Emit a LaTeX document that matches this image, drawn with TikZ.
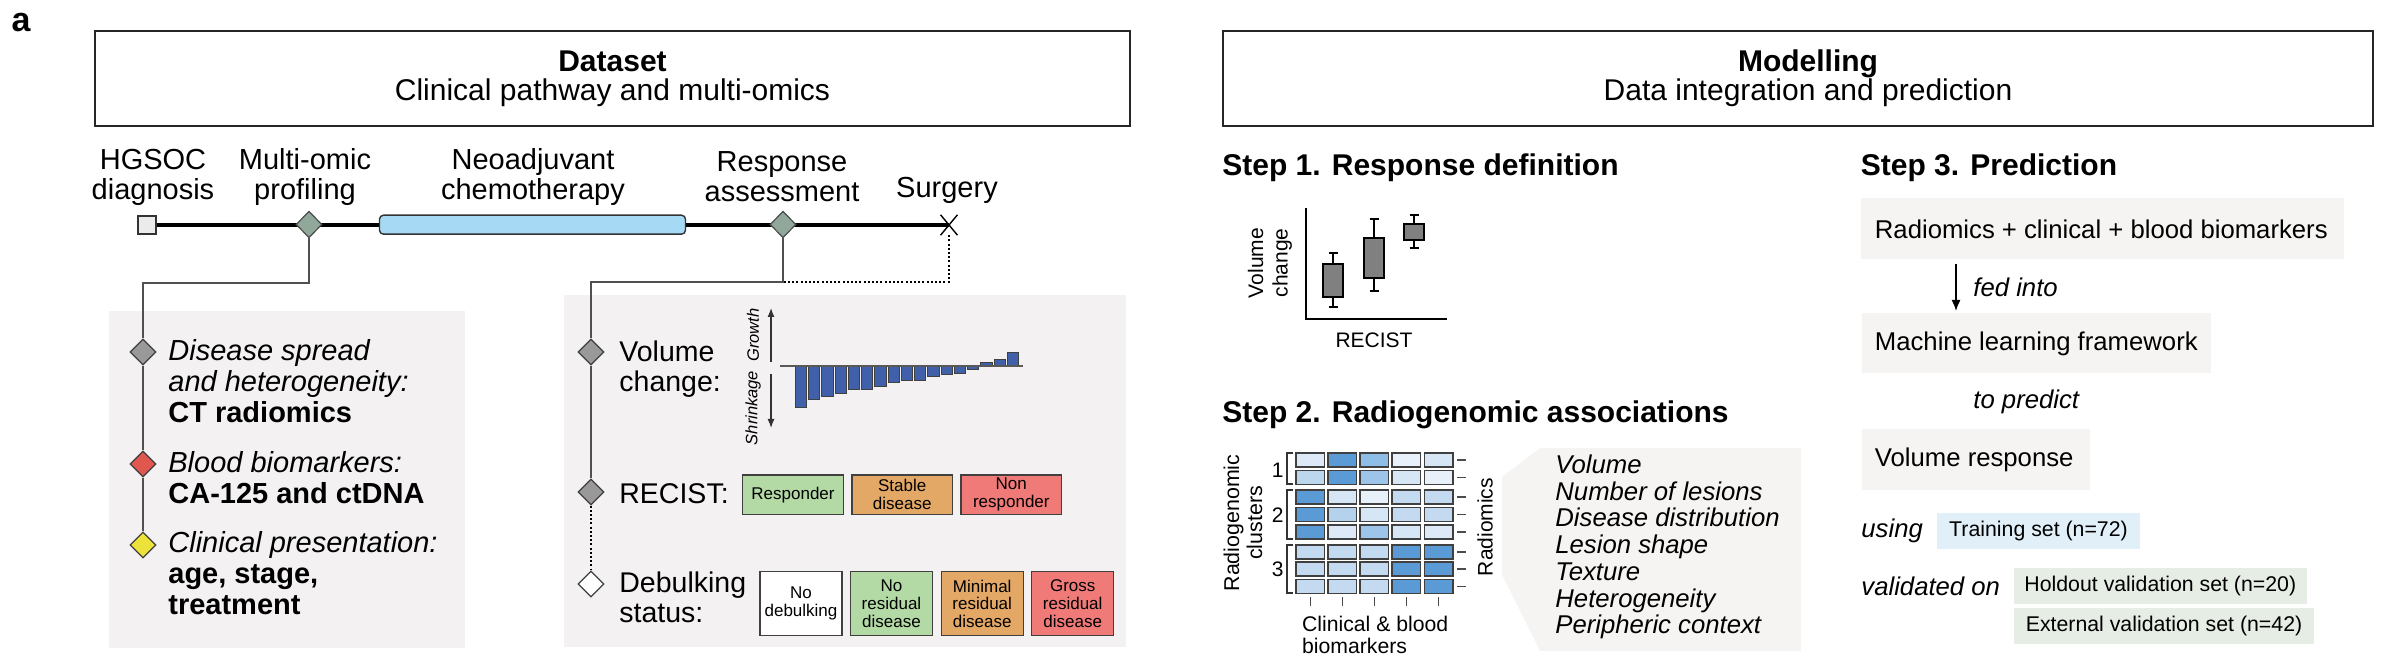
\documentclass[tikz,border=0pt]{standalone}
\usepackage{fontspec}
\setmainfont{Liberation Sans}
\usetikzlibrary{shapes.geometric,shapes.misc,arrows.meta}
\definecolor{panelA}{HTML}{F3F1F2}
\definecolor{panelB}{HTML}{F5F4F2}
\definecolor{chemoc}{HTML}{A6DAF4}
\definecolor{tlgreen}{HTML}{8FA899}
\definecolor{dgray}{HTML}{999999}
\definecolor{dred}{HTML}{E0574F}
\definecolor{dyellow}{HTML}{EDE23A}
\definecolor{barblue}{HTML}{4060AA}
\definecolor{bgreen}{HTML}{B3D9A5}
\definecolor{borange}{HTML}{E3A866}
\definecolor{bred}{HTML}{F07A78}
\definecolor{trainc}{HTML}{E1EFF9}
\definecolor{valc}{HTML}{E6EDE4}
\definecolor{linec}{HTML}{505050}
\definecolor{boxgray}{HTML}{808080}
\definecolor{hA}{HTML}{5B9BD5}
\definecolor{hB}{HTML}{8EBDE5}
\definecolor{hC}{HTML}{9DC5E9}
\definecolor{hD}{HTML}{B5D2ED}
\definecolor{hE}{HTML}{BCD6EE}
\definecolor{hF}{HTML}{C3DAF0}
\definecolor{hG}{HTML}{D6E6F5}
\definecolor{hH}{HTML}{DDE9F6}
\definecolor{hI}{HTML}{E8F1FA}
\newcommand{\myfs}[2]{\fontsize{#1pt}{#2pt}\selectfont}
\begin{document}
\begin{tikzpicture}[x=0.5pt,y=-0.5pt,
  txt/.style={inner sep=0pt},
  titlebox/.style={draw=black!85, line width=1pt, inner sep=0pt, minimum height=47.5pt},
  tllabel/.style={inner sep=0pt, align=center, font=\myfs{14.5}{15}},
  tldia/.style={diamond, draw=black!70, fill=tlgreen, line width=0.6pt, inner sep=0pt, minimum width=13pt, minimum height=13.3pt},
  pdia/.style={diamond, draw=black!75, line width=0.6pt, inner sep=0pt, minimum width=13pt, minimum height=13pt},
  panel/.style={fill=#1, draw=none, inner sep=0pt, anchor=north west},
  conn/.style={draw=linec, line width=0.8pt},
  dotc/.style={draw=black, line width=0.8pt, dash pattern=on 1pt off 1.1pt},
  cbox/.style={draw=black!75, line width=0.7pt, inner sep=0pt, align=center, font=\myfs{8.5}{8.8}},
  sbox/.style={fill=panelB, draw=none, inner sep=0pt, anchor=north west},
  setbox/.style={draw=none, inner sep=0pt, font=\myfs{10.65}{10.65}, minimum height=18pt},
  head/.style={inner sep=0pt, anchor=west, font=\myfs{15}{15}\bfseries},
  small/.style={inner sep=0pt, font=\myfs{10.5}{11.5}}
]
\useasboundingbox (0,0) rectangle (2398,672);

% panel label
\node[txt, font=\myfs{17}{17}\bfseries] (lbl) at (21,22.5) {a};

% title boxes
\node[titlebox, minimum width=517.5pt, align=center, font=\myfs{15}{14.5}] (ds) at (612.5,78.5) {\textbf{Dataset}\\Clinical pathway and multi-omics};
\node[titlebox, minimum width=575pt] (md) at (1798,78.5) {};
\node[txt, align=center, font=\myfs{15}{14.5}] (mdt) at (1808,78.5) {\textbf{Modelling}\\Data integration and prediction};

% timeline labels
\node[tllabel] (l1) at (153,177) {HGSOC\\diagnosis};
\node[tllabel] (l2) at (305,177) {Multi-omic\\profiling};
\node[tllabel] (l3) at (533,177) {Neoadjuvant\\chemotherapy};
\node[tllabel] (l4) at (782,177) {Response\\assessment};
\node[tllabel] (l5) at (947,190) {Surgery};

% panels
\node[panel=panelA, minimum width=178pt, minimum height=168.5pt] (lp) at (109,311) {};
\node[panel=panelA, minimum width=281pt, minimum height=176pt] (mp) at (564,295) {};

% timeline
\node[draw=black!80, fill=black!8, minimum size=9pt, inner sep=0pt, line width=0.6pt] (sq) at (147,225) {};
\node[cross out, draw=black, line width=0.7pt, minimum width=7.75pt, minimum height=9.5pt, inner sep=0pt] (sx) at (949,225) {};
\draw[line width=2pt] (sq.east) -- (sx.center);
\node[tldia] (d1) at (309,224.5) {};
\node[draw=black!80, fill=chemoc, rounded corners=2pt, minimum width=153pt, minimum height=9.5pt, inner sep=0pt, line width=0.7pt] (ch) at (532.5,224.7) {};
\node[tldia] (d2) at (783,224.5) {};

% left panel
\coordinate (k1) at (143,283);
\node[pdia, fill=dgray] (g1) at (143,352) {};
\node[pdia, fill=dred] (g2) at (143,464) {};
\node[pdia, fill=dyellow] (g3) at (143,545) {};
\draw[conn] (d1.south) |- (k1) -- (g1.north);
\draw[conn] (g1.south) -- (g2.north);
\draw[conn] (g2.south) -- (g3.north);
\node[txt, anchor=west, align=left, font=\myfs{14.5}{15.5}] (t1) at (168,381) {\textit{Disease spread}\\\textit{and heterogeneity:}\\\textbf{CT radiomics}};
\node[txt, anchor=west, align=left, font=\myfs{14.5}{15.5}] (t2) at (168,478) {\textit{Blood biomarkers:}\\\textbf{CA-125 and ctDNA}};
\node[txt, anchor=west, align=left, font=\myfs{14.5}{15.5}] (t3) at (168,573) {\textit{Clinical presentation:}\\\textbf{age, stage,}\\\textbf{treatment}};

% middle panel
\coordinate (k2) at (591,282);
\coordinate (k3) at (783,282);
\node[pdia, fill=dgray] (v1) at (591,352) {};
\node[pdia, fill=dgray] (v2) at (591,492) {};
\node[pdia, fill=white] (v3) at (591,584) {};
\draw[conn] (d2.south) |- (k2) -- (v1.north);
\draw[conn] (v1.south) -- (v2.north);
\draw[dotc] (v2.south) -- (v3.north);
\draw[dotc] (sx.south) |- (k3);
\node[txt, anchor=west, align=left, font=\myfs{14.25}{15}] (vc) at (619,369) {Volume\\change:};
\node[txt, anchor=west, font=\myfs{14.25}{15}] (rl) at (619,494) {RECIST:};
\node[txt, anchor=west, align=left, font=\myfs{14.25}{15}] (dl) at (619,597) {Debulking\\status:};

% waterfall chart
\draw[-{Latex[length=4.5pt,width=3.5pt]}, line width=0.6pt, black!80] (771,362) -- (771,308);
\draw[-{Latex[length=4.5pt,width=3.5pt]}, line width=0.6pt, black!80] (771,374) -- (771,428);
\node[txt, rotate=90, font=\myfs{8.25}{8.25}\itshape] (gr) at (753,335) {Growth};
\node[txt, rotate=90, font=\myfs{8.25}{8.25}\itshape] (sh) at (753,408) {Shrinkage};
\foreach \v [count=\i from 0] in {41.3,33.3,30.3,27.3,23.3,23.3,20.7,16.7,15,15,10.3,8.3,7.3,3.3,-3,-6,-13}
  \filldraw[fill=barblue, draw=black!75, line width=0.5pt] ({795.3+\i*13.25},366) rectangle ++(11.3,\v);
\draw[line width=0.8pt, black!65] (780,366) -- (1023,366);

% RECIST boxes
\node[cbox, fill=bgreen, minimum width=50.3pt, minimum height=19.6pt] (r1) at (793,494.7) {Responder};
\node[cbox, fill=borange, minimum width=50.3pt, minimum height=19.6pt] (r2) at (902.2,494.7) {Stable\\disease};
\node[cbox, fill=bred, minimum width=50.3pt, minimum height=19.6pt] (r3) at (1011.3,494.7) {Non\\responder};

% debulking boxes
\node[cbox, fill=white, minimum width=41pt, minimum height=32pt] (b1) at (801,603.7) {No\\debulking};
\node[cbox, fill=bgreen, minimum width=41pt, minimum height=32pt] (b2) at (891.5,603.7) {No\\residual\\disease};
\node[cbox, fill=borange, minimum width=41pt, minimum height=32pt] (b3) at (982.2,603.7) {Minimal\\residual\\disease};
\node[cbox, fill=bred, minimum width=41pt, minimum height=32pt] (b4) at (1072.7,603.7) {Gross\\residual\\disease};

% Step 1
\node[head] (s1) at (1222,168) {Step 1. Response definition};
\draw[line width=1.2pt] (1306,208) -- (1306,319) -- (1447,319);
\foreach \c/\lo/\bl/\bh/\hi in {1333/307/297/264/253, 1374/291/278/238/219, 1414/248/240/224/215} {
  \draw[line width=0.8pt] (\c,\lo) -- (\c,\bl) (\c,\bh) -- (\c,\hi) (\c-4.5,\lo) -- (\c+4.5,\lo) (\c-4.5,\hi) -- (\c+4.5,\hi);
  \filldraw[fill=boxgray, draw=black, line width=0.8pt] (\c-10,\bl) rectangle (\c+10,\bh);
}
\node[small, rotate=90, align=center, font=\myfs{10.5}{12.3}] (vcl) at (1270,263) {Volume\\change};
\node[small] (rcl) at (1374,340) {RECIST};

% Step 2
\node[head] (s2) at (1222,415) {Step 2. Radiogenomic associations};
\foreach \yt/\ca/\cb/\cc/\cd/\ce in {453/hH/hA/hB/hI/hG, 470.5/hE/hA/hC/hG/hI, 490/hA/hG/hI/hF/hF, 507.5/hA/hD/hG/hF/hF, 525/hA/hH/hC/hG/hH, 545/hF/hF/hF/hA/hA, 562/hF/hF/hF/hA/hA, 579.5/hF/hF/hF/hA/hA} {
  \foreach \x/\cl in {1296/\ca,1328/\cb,1360/\cc,1392/\cd,1424.5/\ce}
    \filldraw[fill=\cl, draw=black!75, line width=0.6pt] (\x,\yt) rectangle ++(28.5,14);
  \draw[line width=0.6pt, black!70] (1457,\yt+7) -- (1466,\yt+7);
}
\foreach \x in {1310.25,1342.25,1374.25,1406.25,1438.75}
  \draw[line width=0.6pt, black!70] (\x,597) -- (\x,606);
\foreach \ya/\yb in {453/484, 490/539, 545/593}
  \draw[line width=0.7pt, black!80] (1293,\ya) -- (1287,\ya) -- (1287,\yb) -- (1293,\yb);
\node[small] (c1) at (1277.6,470) {1};
\node[small] (c2) at (1277.6,515) {2};
\node[small] (c3) at (1277.6,569) {3};
\node[small, rotate=90, align=center, font=\myfs{10.7}{11.5}] (rgc) at (1243,523) {Radiogenomic\\clusters};
\node[small, rotate=90] (rad) at (1485,527) {Radiomics};
\node[small, anchor=west, align=left, font=\myfs{10.6}{11}] (cbb) at (1301.7,635) {Clinical \& blood\\biomarkers};
\fill[panelB] (1540,448) -- (1801,448) -- (1801,651) -- (1540,651) -- (1502,575) -- (1502,477) -- cycle;
\node[txt, anchor=west, align=left, font=\myfs{12.85}{13.35}\itshape] (rlist) at (1555,547) {Volume\\Number of lesions\\Disease distribution\\Lesion shape\\Texture\\Heterogeneity\\Peripheric context};

% Step 3
\node[head] (s3) at (1860.5,168) {Step 3. Prediction};
\node[sbox, minimum width=241.5pt, minimum height=30.5pt] (p1) at (1861,198) {};
\node[txt, anchor=west, font=\myfs{12.85}{12.85}] (p1t) at ([xshift=6.75pt]p1.west) {Radiomics + clinical + blood biomarkers};
\node[sbox, minimum width=174.5pt, minimum height=30pt] (p2) at (1862,313) {};
\node[txt, anchor=west, font=\myfs{12.85}{12.85}] (p2t) at ([xshift=6.25pt]p2.west) {Machine learning framework};
\node[sbox, minimum width=114pt, minimum height=30.5pt] (p3) at (1862,429) {};
\node[txt, anchor=west, font=\myfs{12.85}{12.85}] (p3t) at ([xshift=6.25pt]p3.west) {Volume response};
\coordinate (fx) at (1956,0);
\draw[-{Latex[length=5.5pt,width=4.5pt]}, line width=0.7pt, shorten <=2pt, shorten >=1pt] (p1.south -| fx) -- (p2.north -| fx);
\node[txt, anchor=west, font=\myfs{12.85}{12.85}\itshape] (fed) at (1973,287) {fed into};
\node[txt, anchor=west, font=\myfs{12.85}{12.85}\itshape] (topr) at (1973,402) {to predict};
\node[txt, anchor=west, font=\myfs{12.85}{12.85}\itshape] (using) at (1861,531) {using};
\node[setbox, fill=trainc, minimum width=101.5pt] (tr) at (2038.5,531) {Training set (n=72)};
\node[txt, anchor=west, font=\myfs{12.85}{12.85}\itshape] (valon) at (1861,586) {validated on};
\node[setbox, fill=valc, minimum width=146.25pt] (ho) at (2160.3,586) {Holdout validation set (n=20)};
\node[setbox, fill=valc, minimum width=150pt] (ex) at (2164,626) {External validation set (n=42)};
\end{tikzpicture}
\end{document}
